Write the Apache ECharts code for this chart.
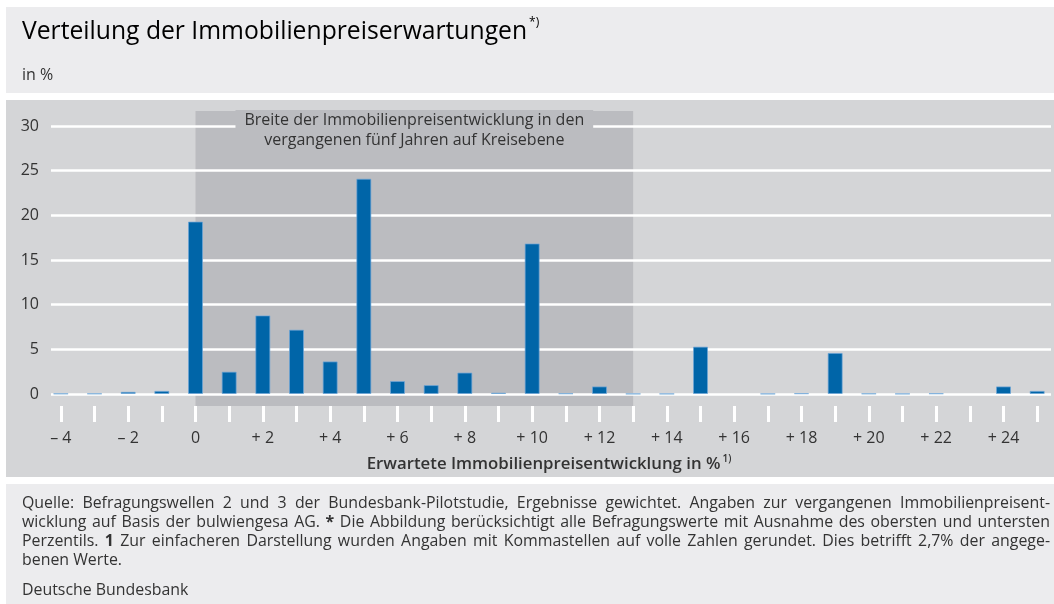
<!DOCTYPE html>
<html>
<head>
<meta charset="utf-8">
<script src="https://cdn.jsdelivr.net/npm/echarts@6/dist/echarts.min.js"></script>
<style>
html, body { margin: 0; padding: 0; background: #fff; }
#chart { width: 1054px; height: 604px; }
</style>
</head>
<body>
<div id="chart"></div>
<script>
// erwartete Preisentwicklung in % (Kategorien) und Anteil der Befragten in %
var expectations = [-4, -3, -2, -1, 0, 1, 2, 3, 4, 5, 6, 7, 8, 9, 10, 11, 12, 13, 14, 15, 16, 17, 18, 19, 20, 21, 22, 23, 24, 25];
var shares = [0.05, 0.05, 0.25, 0.35, 19.3, 2.5, 8.8, 7.2, 3.65, 24.1, 1.45, 1.0, 2.4, 0.15, 16.85, 0.07, 0.85, 0.03, 0.03, 5.3, 0, 0.03, 0.08, 4.6, 0.05, 0.03, 0.07, 0, 0.85, 0.35];
var yTicks = [0, 5, 10, 15, 20, 25, 30];
var pastRange = [0, 13]; // Breite der Immobilienpreisentwicklung der letzten fuenf Jahre

var footLines = [
    'Quelle: Befragungswellen 2 und 3 der Bundesbank-Pilotstudie, Ergebnisse gewichtet. Angaben zur vergangenen Immobilienpreisent-',
    'wicklung auf Basis der bulwiengesa AG. * Die Abbildung berücksichtigt alle Befragungswerte mit Ausnahme des obersten und untersten',
    'Perzentils. 1 Zur einfacheren Darstellung wurden Angaben mit Kommastellen auf volle Zahlen gerundet. Dies betrifft 2,7% der angege-',
    'benen Werte.'
];

var font = '"Open Sans", sans-serif';
var textColor = '#333';
var bandColor = '#bbbcc0';
var footFont = '15.9px "Open Sans"';
var yMin = yTicks[0], yMax = yTicks[yTicks.length - 1];

function tickLabel(v) {
    v = Number(v);
    if (v < 0) return '\u2013 ' + (-v);
    if (v > 0) return '+ ' + v;
    return '0';
}

// Blocksatz fuer die Fussnote
var ctx = document.createElement('canvas').getContext('2d');
function measure(w, bold) {
    ctx.font = (bold ? 'bold ' : '') + footFont;
    return ctx.measureText(w).width;
}
var footGraphics = [];
footLines.forEach(function (line, i) {
    var words = line.split(' ');
    var bolds = words.map(function (w) { return w === '*' || w === '1'; });
    var widths = words.map(function (w, k) { return measure(w, bolds[k]); });
    var total = widths.reduce(function (a, b) { return a + b; }, 0);
    var last = i === footLines.length - 1;
    var gap = last ? measure(' ') : (1028 - total) / (words.length - 1);
    var x = 22;
    words.forEach(function (w, k) {
        footGraphics.push({
            type: 'text', x: x, y: 503 + i * 19, z: 10,
            style: { text: w, font: (bolds[k] ? 'bold ' : '') + footFont, fill: textColor, verticalAlign: 'middle' }
        });
        x += widths[k] + gap;
    });
});

// Nullwerte ohne Rand, damit dort keine Linie erscheint
var barData = shares.map(function (v) {
    return v === 0 ? { value: v, itemStyle: { borderWidth: 0 } } : v;
});

var chart = echarts.init(document.getElementById('chart'));

var option = {
    animation: false,
    graphic: [
        { type: 'rect', z: -10, shape: { x: 6, y: 7, width: 1048, height: 86 }, style: { fill: '#ececee' } },
        { type: 'rect', z: -10, shape: { x: 6, y: 100, width: 1048, height: 377 }, style: { fill: '#d4d5d7' } },
        { type: 'rect', z: -10, shape: { x: 6, y: 484, width: 1048, height: 120 }, style: { fill: '#ececee' } },
        {
            type: 'text', x: 22, y: 32, z: 10,
            style: {
                text: '{t|Verteilung der Immobilienpreiserwartungen}{s|*)}',
                verticalAlign: 'middle',
                rich: {
                    t: { fontSize: 24.7, fontFamily: font, color: textColor, lineHeight: 30 },
                    s: { fontSize: 12, fontFamily: font, color: textColor, verticalAlign: 'top', lineHeight: 29, padding: [0, 0, 0, 2] }
                }
            }
        },
        { type: 'text', x: 22, y: 75, z: 10, style: { text: 'in %', font: '16px "Open Sans"', fill: textColor, verticalAlign: 'middle' } },
        { type: 'text', x: 22, y: 590, z: 10, style: { text: 'Deutsche Bundesbank', font: footFont, fill: textColor, verticalAlign: 'middle' } }
    ].concat(footGraphics),
    grid: [
        { left: 51, right: 3, top: 126, bottom: 210 },   // Gitterlinien + y-Achse
        { left: 44, right: -4, top: 126, bottom: 210 },  // Balken
        { left: 44, right: -4, top: 126, bottom: 198 }   // Striche + Beschriftung unterhalb
    ],
    xAxis: [
        { gridIndex: 0, type: 'value', min: 0, max: 1, show: false },
        { gridIndex: 1, type: 'category', data: expectations, show: false },
        {
            gridIndex: 2,
            type: 'category',
            data: expectations,
            axisLine: { show: false },
            axisTick: {
                show: true,
                alignWithLabel: true,
                interval: 0,
                length: 16,
                lineStyle: { color: '#fff', width: 3 }
            },
            axisLabel: {
                interval: 1,
                margin: 24,
                formatter: tickLabel,
                fontSize: 16,
                fontFamily: font,
                color: textColor
            },
            name: '{n|Erwartete Immobilienpreisentwicklung in %}{s|1)}',
            nameLocation: 'middle',
            nameGap: 48,
            nameTextStyle: {
                rich: {
                    n: { fontSize: 16.8, fontWeight: 600, fontFamily: font, color: textColor, lineHeight: 20 },
                    s: { fontSize: 10, fontWeight: 600, fontFamily: font, color: textColor, verticalAlign: 'top', lineHeight: 10, padding: [0, 0, 10, 2] }
                }
            }
        }
    ],
    yAxis: [
        {
            gridIndex: 0,
            type: 'value',
            min: yMin,
            max: yMax,
            interval: yTicks[1] - yTicks[0],
            axisLine: { show: false },
            axisTick: { show: false },
            splitLine: { lineStyle: { color: '#fff', width: 2.5 } },
            axisLabel: { margin: 12, fontSize: 16, fontFamily: font, color: textColor }
        },
        { gridIndex: 1, type: 'value', min: yMin, max: yMax, show: false },
        { gridIndex: 2, type: 'value', min: 0, max: 1, show: false }
    ],
    series: [
        {
            type: 'custom',
            xAxisIndex: 1,
            yAxisIndex: 1,
            z: -1,
            silent: true,
            data: [[expectations.indexOf(pastRange[0]), expectations.indexOf(pastRange[1])]],
            renderItem: function (params, api) {
                var a = api.coord([api.value(0), yMax]);
                var b = api.coord([api.value(1), yMin]);
                return {
                    type: 'rect',
                    shape: { x: a[0], y: a[1] - 15, width: b[0] - a[0], height: b[1] - a[1] + 27 },
                    style: { fill: bandColor }
                };
            }
        },
        {
            type: 'custom',
            xAxisIndex: 1,
            yAxisIndex: 1,
            z: 5,
            silent: true,
            data: [[expectations.indexOf(pastRange[0]), expectations.indexOf(pastRange[1])]],
            renderItem: function (params, api) {
                var a = api.coord([api.value(0), yMax]);
                var b = api.coord([api.value(1), yMin]);
                return {
                    type: 'text',
                    x: (a[0] + b[0]) / 2,
                    y: a[1] - 16,
                    style: {
                        text: 'Breite der Immobilienpreisentwicklung in den\nvergangenen fünf Jahren auf Kreisebene',
                        align: 'center',
                        verticalAlign: 'top',
                        font: '16px "Open Sans"',
                        lineHeight: 20,
                        fill: textColor,
                        backgroundColor: bandColor,
                        padding: [0, 9]
                    }
                };
            }
        },
        {
            type: 'bar',
            xAxisIndex: 1,
            yAxisIndex: 1,
            data: barData,
            barWidth: 15,
            z: 3,
            itemStyle: {
                color: '#0065a8',
                borderColor: 'rgba(110,165,215,0.7)',
                borderWidth: 1
            }
        }
    ]
};

chart.setOption(option);
</script>
</body>
</html>
